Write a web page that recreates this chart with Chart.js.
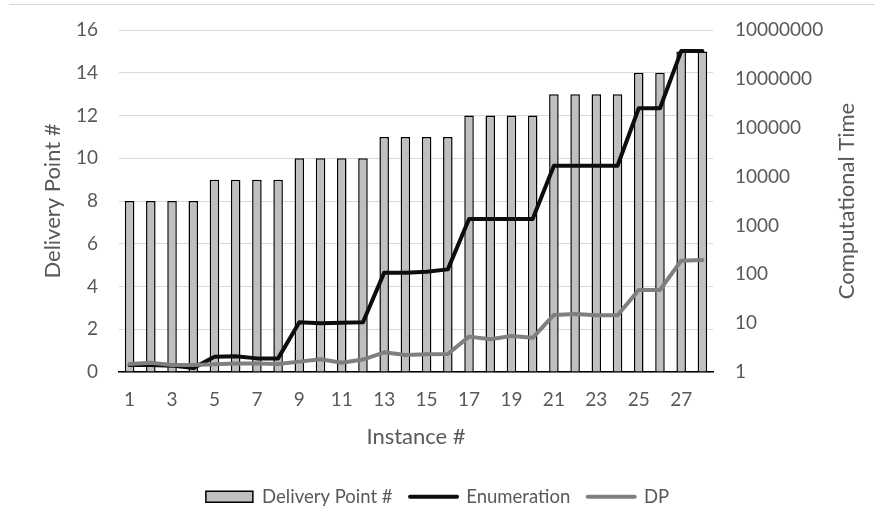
<!DOCTYPE html>
<html>
<head>
<meta charset="utf-8">
<script src="https://cdn.jsdelivr.net/npm/chart.js@4/dist/chart.umd.min.js"></script>
<style>
  html, body { margin: 0; padding: 0; background: #ffffff; }
  #wrap { width: 875px; height: 516px; }
</style>
</head>
<body>
<div id="wrap"><canvas id="c" width="875" height="516"></canvas></div>
<script>
// Instance labels and measured values
const instances = ['1','2','3','4','5','6','7','8','9','10','11','12','13','14',
                   '15','16','17','18','19','20','21','22','23','24','25','26','27','28'];
const deliveryPoints = [8, 8, 8, 8, 9, 9, 9, 9, 10, 10, 10, 10, 11, 11, 11, 11,
                        12, 12, 12, 12, 13, 13, 13, 13, 14, 14, 15, 15];
const enumerationTime = [1.39, 1.39, 1.35, 1.2, 2.05, 2.1, 1.9, 1.9, 10.4, 9.9, 10.2, 10.4,
                         108, 108, 113, 126, 1350, 1350, 1350, 1350,
                         16700, 16700, 16700, 16700, 250000, 250000, 3700000, 3700000];
const dpTime = [1.46, 1.55, 1.39, 1.39, 1.44, 1.5, 1.5, 1.46, 1.63, 1.82, 1.55, 1.8,
                2.53, 2.23, 2.3, 2.33, 5.3, 4.7, 5.46, 5.0,
                14.7, 15.4, 14.5, 14.5, 47.7, 47.7, 190, 196];
const leftTicks = [0, 2, 4, 6, 8, 10, 12, 14, 16];
const rightTicks = [1, 10, 100, 1000, 10000, 100000, 1000000, 10000000];

const FONT = 'Lato, "Open Sans", sans-serif';
const TEXT = '#595959';

// Thin frame line along the top and the right-hand axis title (reads bottom-to-top)
const decorations = {
  id: 'decorations',
  beforeDraw(chart) {
    const ctx = chart.ctx;
    ctx.save();
    ctx.strokeStyle = '#d9d9d9';
    ctx.lineWidth = 1;
    ctx.beginPath();
    ctx.moveTo(9, 4.5);
    ctx.lineTo(875, 4.5);
    ctx.stroke();
    ctx.restore();
  },
  afterDraw(chart) {
    const ctx = chart.ctx;
    const area = chart.chartArea;
    ctx.save();
    ctx.translate(847, (area.top + area.bottom) / 2);
    ctx.rotate(-Math.PI / 2);
    ctx.fillStyle = TEXT;
    ctx.font = '22px ' + FONT;
    ctx.textAlign = 'center';
    ctx.textBaseline = 'middle';
    ctx.fillText('Computational Time', 0, 0);
    ctx.restore();
  }
};

new Chart(document.getElementById('c'), {
  data: {
    labels: instances,
    datasets: [
      {
        type: 'bar',
        label: 'Delivery Point #',
        data: deliveryPoints,
        yAxisID: 'y',
        backgroundColor: '#bfbfbf',
        borderColor: '#000000',
        borderWidth: 1.5,
        categoryPercentage: 1.0,
        barPercentage: 0.45,
        order: 2
      },
      {
        type: 'line',
        label: 'Enumeration',
        data: enumerationTime,
        yAxisID: 'y1',
        borderColor: '#0d0d0d',
        backgroundColor: '#0d0d0d',
        borderWidth: 4,
        pointRadius: 0,
        tension: 0,
        borderJoinStyle: 'round',
        borderCapStyle: 'round',
        order: 1
      },
      {
        type: 'line',
        label: 'DP',
        data: dpTime,
        yAxisID: 'y1',
        borderColor: '#7f7f7f',
        backgroundColor: '#7f7f7f',
        borderWidth: 4,
        pointRadius: 0,
        tension: 0,
        borderJoinStyle: 'round',
        borderCapStyle: 'round',
        order: 0
      }
    ]
  },
  options: {
    responsive: false,
    animation: false,
    devicePixelRatio: 1,
    layout: { padding: { top: 30, left: 0, right: 0, bottom: 0 } },
    plugins: {
      tooltip: { enabled: false },
      legend: {
        position: 'bottom',
        labels: {
          font: { family: FONT, size: 18.5 },
          color: TEXT,
          usePointStyle: true,
          pointStyleWidth: 47,
          boxHeight: 11,
          padding: 17.5,
          generateLabels(chart) {
            return chart.data.datasets.map((ds, i) => ({
              text: ds.label,
              datasetIndex: i,
              hidden: false,
              fontColor: TEXT,
              fillStyle: ds.type === 'bar' ? ds.backgroundColor : 'rgba(0,0,0,0)',
              strokeStyle: ds.borderColor,
              lineWidth: ds.type === 'bar' ? 1.5 : 4,
              lineCap: 'round',
              pointStyle: ds.type === 'bar' ? 'rect' : 'line'
            }));
          }
        }
      }
    },
    scales: {
      x: {
        grid: { display: false, drawTicks: false },
        border: { display: true, color: '#000000', width: 1.5 },
        ticks: {
          autoSkip: false,
          maxRotation: 0,
          padding: 16,
          font: { family: FONT, size: 19 },
          color: TEXT,
          callback: (v, i) => (i % 2 === 0 ? instances[i] : '')
        },
        title: {
          display: true,
          text: 'Instance #',
          font: { family: FONT, size: 22 },
          color: TEXT,
          padding: { top: 0, bottom: 20 }
        },
        afterFit(scale) { scale.height = 98; }
      },
      y: {
        position: 'left',
        min: 0,
        max: 16,
        afterBuildTicks(scale) { scale.ticks = leftTicks.map(v => ({ value: v })); },
        grid: { color: '#d9d9d9', lineWidth: 1, drawTicks: false },
        border: { display: false },
        ticks: {
          padding: 21,
          font: { family: FONT, size: 19, lineHeight: 0.8 },
          color: TEXT
        },
        title: {
          display: true,
          text: 'Delivery Point #',
          font: { family: FONT, size: 22 },
          color: TEXT,
          padding: { top: 40, bottom: 0 }
        },
        afterFit(scale) { scale.width = 119; }
      },
      y1: {
        type: 'logarithmic',
        position: 'right',
        min: 1,
        max: 10000000,
        afterBuildTicks(scale) { scale.ticks = rightTicks.map(v => ({ value: v })); },
        grid: { display: false, drawTicks: false },
        border: { display: false },
        ticks: {
          padding: 22,
          font: { family: FONT, size: 19, lineHeight: 0.8 },
          color: TEXT,
          callback: v => String(v)
        },
        afterFit(scale) { scale.width = 162; }
      }
    }
  },
  plugins: [decorations]
});
</script>
</body>
</html>
